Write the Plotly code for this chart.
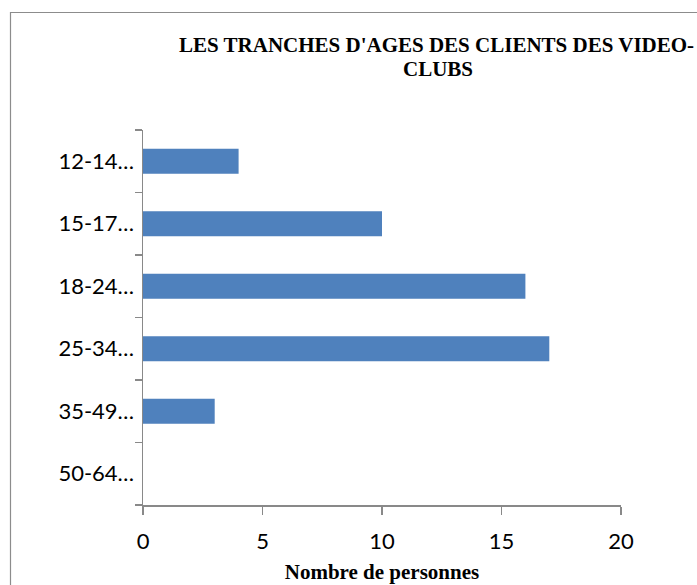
import plotly.graph_objects as go

categories = ["12-14…", "15-17…", "18-24…", "25-34…", "35-49…", "50-64…"]
values = [4, 10, 16, 17, 3, 0]
x_ticks = [0, 5, 10, 15, 20]

title_line1 = "LES TRANCHES D'AGES DES CLIENTS DES VIDEO-"
title_line2 = "CLUBS"
x_title = "Nombre de personnes"

W, H = 697, 585
L, R, T, B = 143, 76, 130, 80
pw, ph = W - L - R, H - T - B

def px_x(x):
    return (x - L) / pw

def px_y(y):
    return (H - B - y) / ph

axis_col = "#898989"
serif = "Liberation Serif, Times New Roman, serif"
sans = "Lato, Calibri, sans-serif"

fig = go.Figure(
    go.Bar(
        x=values,
        y=categories,
        orientation="h",
        marker=dict(color="#4F81BD", line=dict(width=0)),
        hoverinfo="skip",
    )
)

fig.update_layout(
    width=W,
    height=H,
    margin=dict(l=L, r=R, t=T, b=B, autoexpand=False),
    paper_bgcolor="white",
    plot_bgcolor="white",
    bargap=0.6,
    showlegend=False,
    font=dict(family=sans, color="black"),
    xaxis=dict(
        range=[0, 20],
        tickvals=x_ticks,
        showgrid=False,
        zeroline=False,
        showline=True,
        linecolor=axis_col,
        linewidth=1.5,
        ticks="outside",
        ticklen=8,
        tickwidth=1.5,
        tickcolor=axis_col,
        tickfont=dict(family=sans, size=22, color="black"),
        ticklabelstandoff=8,
        title=dict(text="<b>" + x_title + "</b>",
                   font=dict(family=serif, size=21, color="black"),
                   standoff=11),
        automargin=False,
        fixedrange=True,
    ),
    yaxis=dict(
        categoryorder="array",
        categoryarray=categories[::-1],
        showgrid=False,
        zeroline=False,
        showline=True,
        linecolor=axis_col,
        linewidth=1.5,
        ticks="outside",
        tickson="boundaries",
        ticklen=7,
        tickwidth=1.5,
        tickcolor=axis_col,
        tickfont=dict(family=sans, size=22, color="black"),
        ticklabelstandoff=3,
        automargin=False,
        fixedrange=True,
    ),
    annotations=[
        dict(text="<b>" + title_line1 + "</b>", xref="paper", yref="paper",
             x=px_x(436), y=px_y(45), xanchor="center", yanchor="middle",
             showarrow=False, font=dict(family=serif, size=21, color="black")),
        dict(text="<b>" + title_line2 + "</b>", xref="paper", yref="paper",
             x=px_x(438), y=px_y(69), xanchor="center", yanchor="middle",
             showarrow=False, font=dict(family=serif, size=21, color="black")),
    ],
    shapes=[
        dict(type="rect", xref="paper", yref="paper",
             x0=px_x(10.5), x1=px_x(720), y0=px_y(620), y1=px_y(12.5),
             line=dict(color="#8c8c8c", width=1.2), fillcolor="rgba(0,0,0,0)",
             layer="below"),
    ],
)

fig.write_html(
    "out.html",
    config={"displayModeBar": False, "staticPlot": True},
    post_script="document.body.style.margin='0';document.body.style.overflow='hidden';",
)
